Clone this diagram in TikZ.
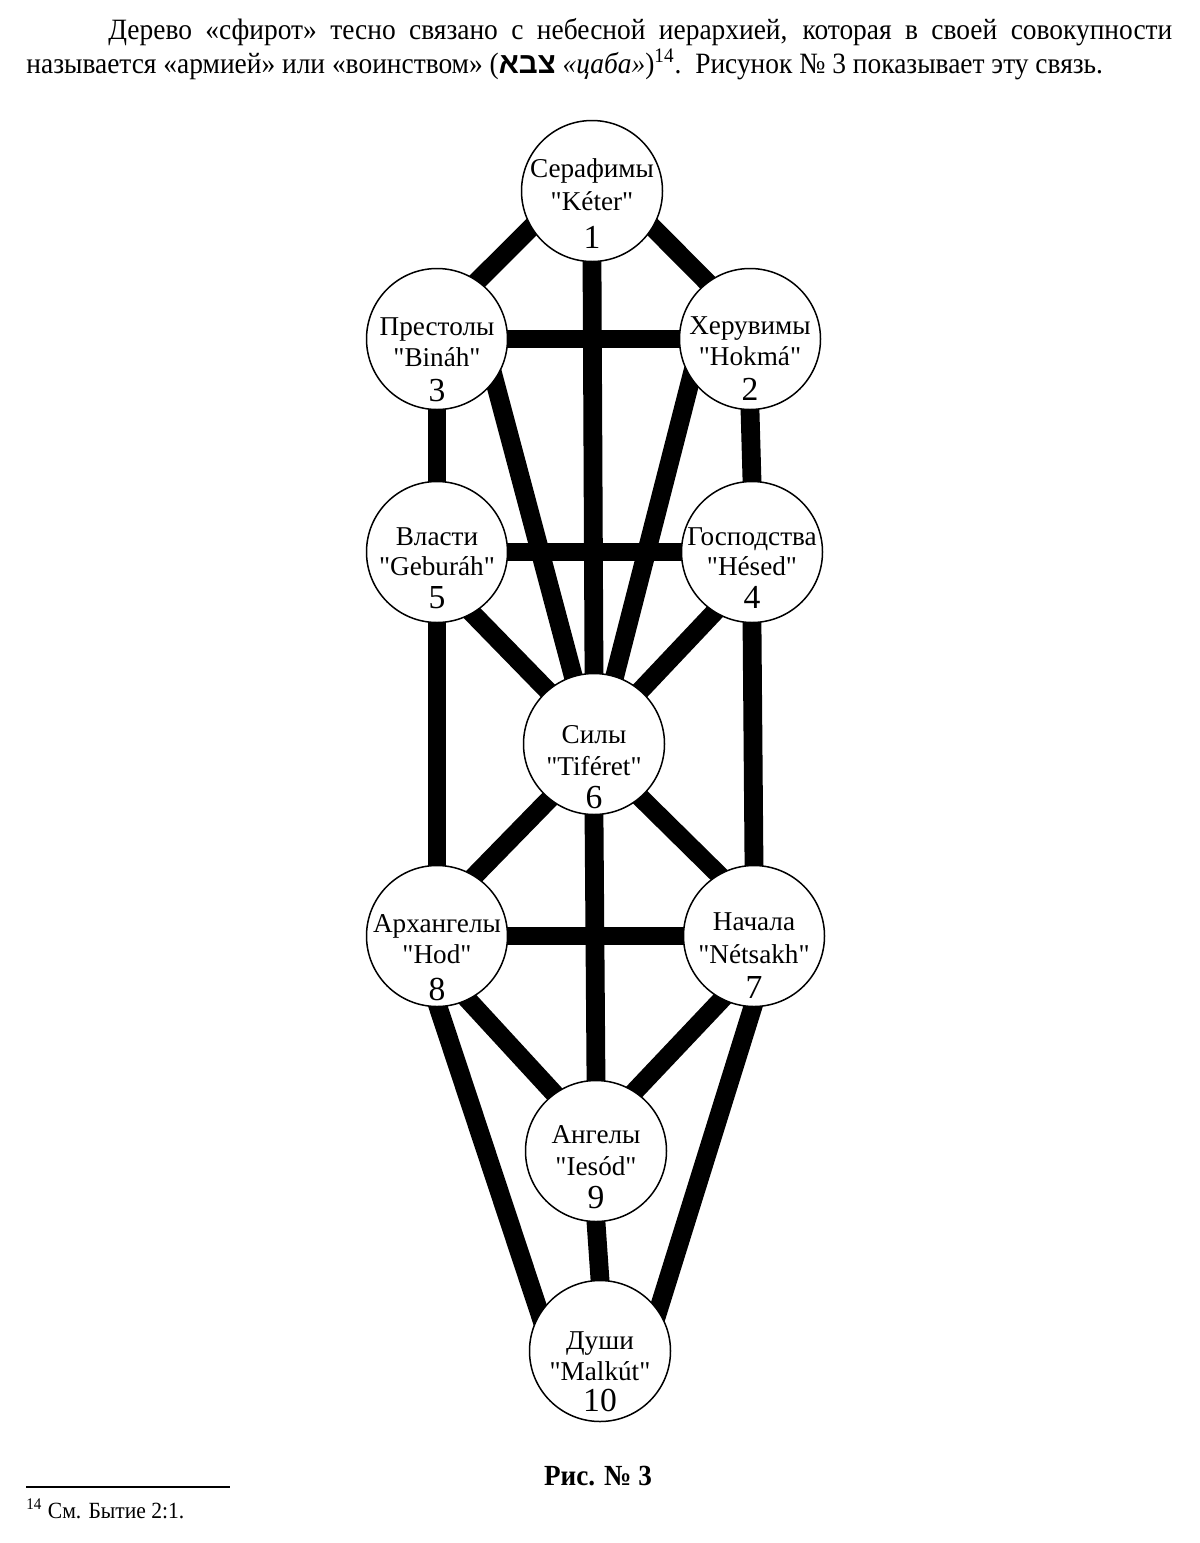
\documentclass[tikz,border=0pt]{standalone}
\usepackage{fontspec}
\setmainfont{Liberation Serif}
\newfontfamily\serif{Liberation Serif}
\newfontfamily\bodyf{Liberation Serif}[FakeStretch=0.93]
\newfontfamily\hebfont[Script=Hebrew]{Liberation Sans}
\TeXXeTstate=1
\pgfdeclarelayer{bg}
\pgfsetlayers{bg,main}
\tikzset{
  sph/.style={circle, draw=black, line width=0.75pt, fill=white, minimum size=70.5pt, inner sep=0pt},
  nm/.style={font=\serif\fontsize{13.6}{16}\selectfont, inner sep=0pt, anchor=base},
  numf/.style={font=\serif\fontsize{16.8}{19}\selectfont, inner sep=0pt, anchor=base},
  bodytext/.style={font=\bodyf\fontsize{14.75}{17}\selectfont, inner sep=0pt, anchor=base west},
  captext/.style={font=\bodyf\fontsize{14.6}{17}\selectfont\bfseries, inner sep=0pt, anchor=base},
  fntext/.style={font=\bodyf\fontsize{11.6}{13}\selectfont, inner sep=0pt, anchor=base west},
  conn/.style={line width=9.4pt, draw=black, shorten <=-5pt, shorten >=-5pt}
}
\newcommand\sephira[9]{%
  \node[sph] (#1) at (#2,#3) {};
  \node[nm] (#1a) at (#2,#7) {#4};
  \node[nm] (#1b) at (#2,#8) {#5};
  \node[numf] (#1c) at (#2,#9) {#6};
}
\begin{document}
\begin{tikzpicture}[x=0.5pt,y=-0.5pt]
\useasboundingbox (0,0) rectangle (1200,1543);

% paragraph
\node[bodytext] (p1) at (108,39) {\hbox to 532pt{Дерево «сфирот» тесно связано с небесной иерархией, которая в своей совокупности}};
\node[bodytext] (p2) at (26,73) {называется «армией» или «воинством» ({\hebfont\bfseries\beginR צבא\endR} \textit{«цаба»})\textsuperscript{14}.\ \ Рисунок № 3 показывает эту связь.};

% sephirot
\sephira{n1}{592}{191}{Серафимы}{"Kéter"}{1}{177}{210}{248}
\sephira{n2}{750}{339}{Херувимы}{"Hokmá"}{2}{334}{365}{400}
\sephira{n3}{437}{339}{Престолы}{"Bináh"}{3}{335}{366}{401}
\sephira{n4}{752}{552}{Господства}{"Hésed"}{4}{545}{575}{608}
\sephira{n5}{437}{552}{Власти}{"Geburáh"}{5}{545}{575}{608}
\sephira{n6}{594}{744}{Силы}{"Tiféret"}{6}{743}{775}{808}
\sephira{n7}{754}{936}{Начала}{"Nétsakh"}{7}{930}{963}{998}
\sephira{n8}{437}{936}{Архангелы}{"Hod"}{8}{932}{963}{1000}
\sephira{n9}{596}{1151}{Ангелы}{"Iesód"}{9}{1143}{1175}{1208}
\sephira{n10}{600}{1351}{Души}{"Malkút"}{10}{1349}{1380}{1411}

\begin{pgfonlayer}{bg}
\fill[white] (0,0) rectangle (1200,1543);
\draw[conn] (n1.211) -- (n3.55);
\draw[conn] (n1.-31) -- (n2.127.5);
\draw[conn] (n1.south) -- (n6.north);
\draw[conn] (n3.east) -- (n2.west);
\draw[conn] (n3.south) -- (n5.north);
\draw[conn] (n2.south) -- (n4.north);
\draw[conn] (n3.-36.5) -- (n6.107);
\draw[conn] (n2.214.6) -- (n6.73);
\draw[conn] (n5.east) -- (n4.west);
\draw[conn] (n5.-60.6) -- (n6.131.5);
\draw[conn] (n4.238) -- (n6.49.6);
\draw[conn] (n5.south) -- (n8.north);
\draw[conn] (n4.south) -- (n7.north);
\draw[conn] (n6.231.6) -- (n8.58);
\draw[conn] (n6.-49.4) -- (n7.120.8);
\draw[conn] (n6.south) -- (n9.north);
\draw[conn] (n8.east) -- (n7.west);
\draw[conn] (n8.-64) -- (n9.126.6);
\draw[conn] (n7.243.4) -- (n9.57);
\draw[conn] (n8.-89) -- (n10.148);
\draw[conn] (n7.-91) -- (n10.35);
\draw[conn] (n9.south) -- (n10.north);
\end{pgfonlayer}

% caption and footnote
\node[captext] (cap) at (598,1485) {Рис. № 3};
\coordinate (r1) at (26,1487);
\coordinate (r2) at (230,1487);
\draw[line width=0.75pt] (r1) -- (r2);
\node[fntext] (fn) at (26,1518) {\textsuperscript{14} См. Бытие 2:1.};
\end{tikzpicture}
\end{document}
